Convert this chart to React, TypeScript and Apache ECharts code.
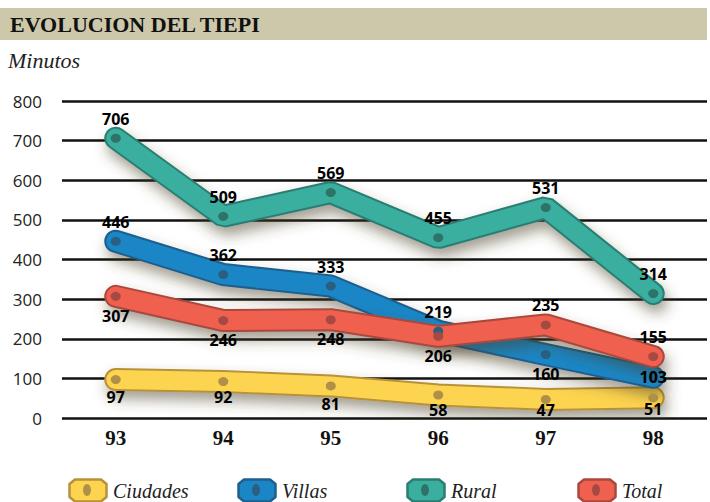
import React, { useEffect, useRef } from "react";
import * as echarts from "echarts";

const categories = ["93", "94", "95", "96", "97", "98"];
const yTicks = [0, 100, 200, 300, 400, 500, 600, 700, 800];
const ciudades = [97, 92, 81, 58, 47, 51];
const villas = [446, 362, 333, 219, 160, 103];
const rural = [706, 509, 569, 455, 531, 314];
const total = [307, 246, 248, 206, 235, 155];
const seriesNames = ["Ciudades", "Villas", "Rural", "Total"];

// label placement per point (style)
const ciudadesPos = ["bottom", "bottom", "bottom", "bottom", "bottom", "bottom"];
const ciudadesDist = [5, 3, 6, 2, -2, -1];
const villasPos = ["top", "top", "top", "top", "bottom", "inside"];
const ruralPos = ["top", "top", "top", "top", "top", "top"];
const totalPos = ["bottom", "bottom", "bottom", "bottom", "top", "top"];

const palette = {
  Ciudades: { fill: "#fdd44f", border: "#b8913b", dot: "#b08f48" },
  Villas: { fill: "#1b86c6", border: "#1f5f8e", dot: "#2a5f80" },
  Rural: { fill: "#3aae9f", border: "#2b7d72", dot: "#2e7367" },
  Total: { fill: "#f0604f", border: "#a9483e", dot: "#a54a42" },
} as Record<string, { fill: string; border: string; dot: string }>;

function legendIcon(c: { fill: string; border: string; dot: string }) {
  const svg =
    `<svg xmlns="http://www.w3.org/2000/svg" width="40" height="25" viewBox="0 0 40 25">` +
    `<path d="M7 1.5 L33 1.5 L38.5 6 L38.5 19 L33 23.5 L7 23.5 L1.5 19 L1.5 6 Z" fill="${c.fill}" stroke="${c.border}" stroke-width="2.5" stroke-linejoin="round"/>` +
    `<ellipse cx="19" cy="12" rx="4" ry="6" fill="${c.dot}"/>` +
    `</svg>`;
  return "image://data:image/svg+xml;charset=utf-8," + encodeURIComponent(svg);
}

export default function App() {
  const ref = useRef<HTMLDivElement>(null);
  useEffect(() => {
    if (!ref.current) return;
    const chart = echarts.init(ref.current, null, { renderer: "svg" });
    const sets: [string, number[], string[], number[] | null][] = [
      ["Ciudades", ciudades, ciudadesPos, ciudadesDist],
      ["Villas", villas, villasPos, null],
      ["Rural", rural, ruralPos, null],
      ["Total", total, totalPos, null],
    ];
    const series: any[] = [];
    sets.forEach(([name, vals, pos, dist]) => {
      const c = palette[name];
      series.push({
        name,
        type: "line",
        data: vals,
        symbol: "none",
        silent: true,
        lineStyle: {
          color: c.border,
          width: 23,
          cap: "round",
          join: "bevel",
          shadowColor: "rgba(70,60,30,0.5)",
          shadowBlur: 14,
          shadowOffsetX: 3,
          shadowOffsetY: 8,
        },
      });
      series.push({
        name,
        type: "line",
        data: vals.map((v, i) => ({
          value: v,
          label: dist ? { position: pos[i], distance: dist[i] } : { position: pos[i] },
        })),
        symbol: "circle",
        symbolSize: [10, 9],
        itemStyle: { color: c.dot },
        lineStyle: { color: c.fill, width: 19, cap: "round", join: "bevel" },
        label: {
          show: true,
          distance: 7,
          color: "#000",
          fontFamily: "'Open Sans', sans-serif",
          fontWeight: "bold",
          fontSize: 16,
        },
      });
    });
    const legendLefts = [63, 232, 401, 572];
    chart.setOption({
      animation: false,
      graphic: [
        { type: "rect", shape: { x: 0, y: 8, width: 707, height: 32 }, style: { fill: "#cdc8aa" } },
        {
          type: "text",
          x: 10,
          y: 24,
          style: {
            text: "EVOLUCION DEL TIEPI",
            font: "bold 22px 'Liberation Serif', serif",
            fill: "#111",
            textVerticalAlign: "middle",
          },
        },
        {
          type: "text",
          x: 8,
          y: 60,
          style: {
            text: "Minutos",
            font: "italic 22px 'Liberation Serif', serif",
            fill: "#222",
            textVerticalAlign: "middle",
          },
        },
      ],
      legend: seriesNames.map((n, i) => ({
        left: legendLefts[i],
        top: 473,
        itemWidth: 40,
        itemHeight: 25,
        selectedMode: false,
        data: [{ name: n, icon: legendIcon(palette[n]) }],
        textStyle: {
          fontFamily: "'Liberation Serif', serif",
          fontStyle: "italic",
          fontSize: 20,
          color: "#222",
          padding: [4, 0, 0, 0],
        },
      })),
      grid: { left: 62, right: 3, top: 101, bottom: 84 },
      xAxis: {
        type: "category",
        data: categories,
        boundaryGap: true,
        axisLine: { show: false },
        axisTick: { show: false },
        axisLabel: {
          margin: 9,
          color: "#111",
          fontFamily: "'Liberation Serif', serif",
          fontWeight: "bold",
          fontSize: 21,
        },
      },
      yAxis: {
        type: "value",
        min: yTicks[0],
        max: yTicks[yTicks.length - 1],
        interval: 100,
        axisLine: { show: false },
        axisTick: { show: false },
        splitLine: { lineStyle: { color: "#111", width: 2.5 } },
        axisLabel: {
          margin: 20,
          color: "#222",
          fontFamily: "'Open Sans', sans-serif",
          fontSize: 17,
        },
      },
      series,
    });
    return () => chart.dispose();
  }, []);
  return <div ref={ref} style={{ width: 710, height: 502, position: "absolute", left: 0, top: 0 }} />;
}
